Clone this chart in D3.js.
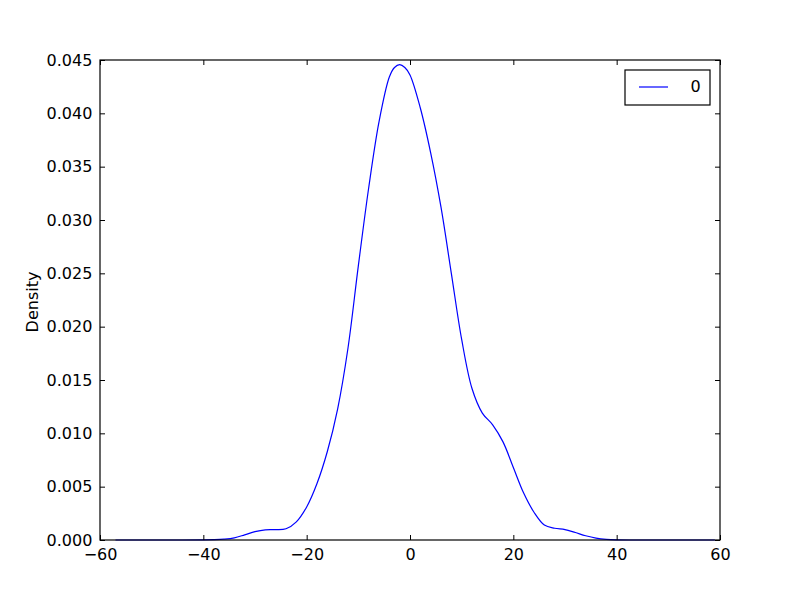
<!DOCTYPE html>
<html>
<head>
<meta charset="utf-8">
<script src="https://cdn.jsdelivr.net/npm/d3@7"></script>
<style>
  body { margin: 0; background: #fff; }
  text { font-family: "DejaVu Sans", sans-serif; }
</style>
</head>
<body>
<svg id="chart" width="800" height="600"></svg>
<script>
// Data (kernel density estimate)
const xs = [-57, -50, -44, -40, -38, -36, -34, -32, -30, -28, -26, -24, -22, -20, -18, -16, -14, -12, -10, -8, -6, -4, -3, -2, -1, 0, 2, 4, 6, 8, 10, 12, 14, 16, 18, 20, 22, 24, 26, 28, 30, 32, 34, 36, 38, 40, 44, 50, 59];
const density = [0, 0, 0, 0.00001, 0.00003, 0.00008, 0.0002, 0.00048, 0.00078, 0.00095, 0.00097, 0.00105, 0.0017, 0.0031, 0.0053, 0.0083, 0.0123, 0.018, 0.0257, 0.033, 0.0392, 0.0434, 0.0443, 0.04456, 0.0443, 0.0436, 0.0405, 0.0363, 0.0312, 0.025, 0.0188, 0.0142, 0.0119, 0.0108, 0.0092, 0.0068, 0.0044, 0.0026, 0.0014, 0.0011, 0.00098, 0.0007, 0.0004, 0.00018, 0.00006, 0.00001, 0, 0, 0];
const seriesName = "0";
const xTicks = [-60, -40, -20, 0, 20, 40, 60];
const yTicks = [0, 0.005, 0.010, 0.015, 0.020, 0.025, 0.030, 0.035, 0.040, 0.045];
const yLabel = "Density";

const svg = d3.select("#chart");
const L = 100, R = 720, T = 60, B = 540;
const x = d3.scaleLinear().domain([-60, 60]).range([L, R]);
const y = d3.scaleLinear().domain([0, 0.045]).range([B, T]);

const pts = xs.map((v, i) => [v, density[i]]);
const line = d3.line().x(d => x(d[0])).y(d => Math.min(y(d[1]), B)).curve(d3.curveCatmullRom.alpha(0.5));

svg.append("path").datum(pts)
  .attr("d", line)
  .attr("fill", "none")
  .attr("stroke", "#0000ff")
  .attr("stroke-width", 1.2);

// Axes (ticks inward on all sides)
const tick = 5;
const fs = "16px";
const axBottom = d3.axisBottom(x).tickValues(xTicks).tickFormat(d => d3.format("d")(d).replace("-", "\u2212")).tickSizeInner(-tick).tickSizeOuter(0).tickPadding(8.5);
const axTop = d3.axisTop(x).tickValues(xTicks).tickFormat("").tickSizeInner(-tick).tickSizeOuter(0);
const axLeft = d3.axisLeft(y).tickValues(yTicks).tickFormat(d3.format(".3f")).tickSizeInner(-tick).tickSizeOuter(0).tickPadding(7.7);
const axRight = d3.axisRight(y).tickValues(yTicks).tickFormat("").tickSizeInner(-tick).tickSizeOuter(0);

function style(g) {
  g.select(".domain").remove();
  g.selectAll("line").attr("stroke", "#000").attr("stroke-width", 1);
  g.selectAll("text").attr("font-size", fs).attr("fill", "#000").attr("font-family", "DejaVu Sans");
}
svg.append("g").attr("transform", `translate(0,${B})`).call(axBottom).call(style);
svg.append("g").attr("transform", `translate(0,${T})`).call(axTop).call(style);
svg.append("g").attr("transform", `translate(${L},0)`).call(axLeft).call(style);
svg.append("g").attr("transform", `translate(${R},0)`).call(axRight).call(style);

svg.append("rect").attr("x", L).attr("y", T).attr("width", R - L).attr("height", B - T)
  .attr("fill", "none").attr("stroke", "#000").attr("stroke-width", 1.2);

svg.append("text").attr("transform", `translate(38,${(T + B) / 2 + 2}) rotate(-90)`)
  .attr("text-anchor", "middle").attr("font-size", fs).text(yLabel);

// Legend
const lg = svg.append("g");
lg.append("rect").attr("x", 625).attr("y", 70).attr("width", 85).attr("height", 35)
  .attr("fill", "#fff").attr("stroke", "#000").attr("stroke-width", 1.2);
lg.append("line").attr("x1", 639).attr("x2", 668).attr("y1", 87).attr("y2", 87)
  .attr("stroke", "#0000ff").attr("stroke-width", 1.2);
lg.append("text").attr("x", 695.5).attr("y", 92).attr("text-anchor", "middle")
  .attr("font-size", fs).text(seriesName);
</script>
</body>
</html>
